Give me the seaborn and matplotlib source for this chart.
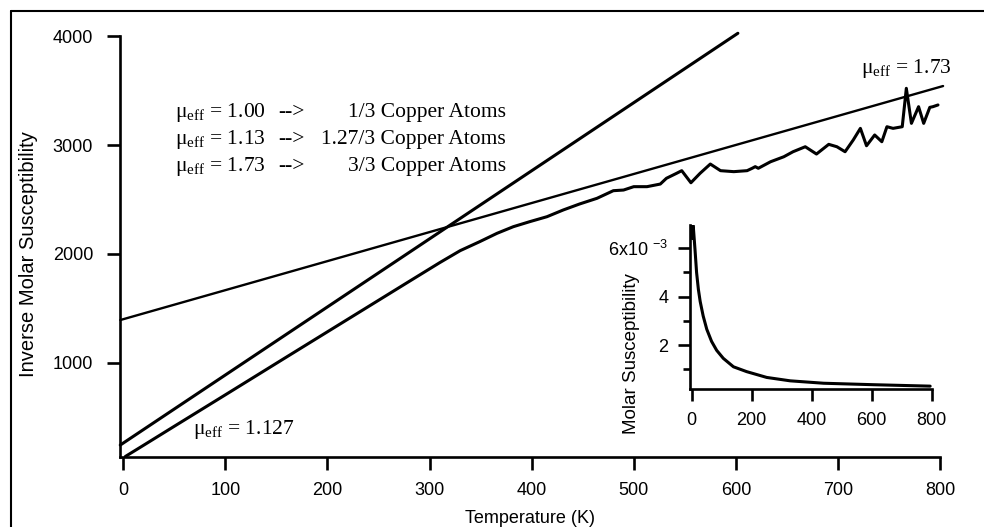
import matplotlib
matplotlib.use('Agg')
import matplotlib.pyplot as plt
import seaborn as sns
from matplotlib.lines import Line2D

# Datos (susceptibilidad molar inversa vs temperatura)
temp_K = [2, 20, 50, 100, 160, 220, 280, 310, 330, 349, 366, 382, 398, 415, 431,
          447, 464, 480, 490, 500, 513, 526, 532, 542, 547, 556, 565, 575, 585,
          598, 611, 616, 619, 622, 634, 647, 656, 668, 679, 691, 699, 707, 715,
          722, 728, 736, 743, 748, 754, 763, 767, 772, 779, 784, 790, 793, 798]
inv_chi = [138, 242, 416, 705, 1053, 1400, 1747, 1920, 2030, 2112, 2189, 2250,
           2296, 2342, 2404, 2459, 2511, 2581, 2587, 2618, 2618, 2642, 2695, 2741,
           2765, 2654, 2741, 2826, 2765, 2756, 2765, 2787, 2802, 2787, 2847, 2893,
           2939, 2985, 2918, 3007, 2985, 2939, 3047, 3154, 2994, 3093, 3031, 3169,
           3154, 3169, 3522, 3200, 3353, 3200, 3347, 3353, 3369]

# Rectas de Curie-Weiss (extremos leídos)
fit_low_T = [-3, 602]        # mu_eff = 1.127
fit_low_inv = [243, 4028]
fit_high_T = [-3, 803]       # mu_eff = 1.73
fit_high_inv = [1392, 3543]

# Recuadro: susceptibilidad molar
chi_T = [1.5, 3, 5, 8, 11, 16, 22, 28, 38, 50, 66, 83, 105, 139, 183, 250,
         328, 440, 605, 795]
chi_molar = [6.4e-3, 7.0e-3, 6.9e-3, 6.4e-3, 5.9e-3, 5.0e-3, 4.3e-3, 3.8e-3,
             3.2e-3, 2.65e-3, 2.15e-3, 1.78e-3, 1.45e-3, 1.1e-3, 0.9e-3, 0.66e-3,
             0.52e-3, 0.42e-3, 0.36e-3, 0.30e-3]

x_ticks = [0, 100, 200, 300, 400, 500, 600, 700, 800]
y_ticks = [1000, 2000, 3000, 4000]
inset_x_ticks = [0, 200, 400, 600, 800]
inset_y_ticks = [2e-3, 4e-3, 6e-3]
inset_y_labels = ['2', '4', '6x10 $^{\\mathsf{-3}}$']
inset_y_minor = [1e-3, 3e-3, 5e-3]

mu_labels = ['μ$_{\\mathrm{eff}}$ = 1.00', 'μ$_{\\mathrm{eff}}$ = 1.13', 'μ$_{\\mathrm{eff}}$ = 1.73']
atom_labels = ['1/3 Copper Atoms', '1.27/3 Copper Atoms', '3/3 Copper Atoms']

sns.set_style('ticks')
plt.rcParams.update({
    'font.family': ['Liberation Sans', 'DejaVu Sans'],
    'mathtext.fontset': 'custom',
    'mathtext.rm': 'Liberation Serif',
    'mathtext.sf': 'Liberation Sans',
    'axes.edgecolor': 'black',
    'axes.labelcolor': 'black',
    'text.color': 'black',
    'xtick.color': 'black',
    'ytick.color': 'black',
})

SERIF = ['Liberation Serif', 'DejaVu Serif']
SERIF_SIZE = 15.5

fig = plt.figure(figsize=(9.84, 5.27), dpi=100)
ax = fig.add_axes([0.122, 0.1334, 0.8333, 0.7977])

sns.lineplot(x=fit_low_T, y=fit_low_inv, ax=ax, color='black', linewidth=2.2, clip_on=False)
sns.lineplot(x=fit_high_T, y=fit_high_inv, ax=ax, color='black', linewidth=1.7, clip_on=False)
sns.lineplot(x=temp_K, y=inv_chi, ax=ax, color='black', linewidth=2.2, clip_on=False)

ax.set_xlim(-3.2, 800)
ax.set_ylim(136, 4000)
ax.set_xticks(x_ticks)
ax.set_yticks(y_ticks)
ax.tick_params(axis='both', direction='out', length=9.4, width=1.9, labelsize=13)
ax.tick_params(axis='x', pad=9)
ax.tick_params(axis='y', pad=10)
for s in ['top', 'right']:
    ax.spines[s].set_visible(False)
for s in ['left', 'bottom']:
    ax.spines[s].set_linewidth(1.9)

ax.set_xlabel('Temperature (K)', fontsize=13, va='top')
ax.xaxis.set_label_coords(0.5, -0.127)
ax.set_ylabel('Inverse Molar Susceptibility', fontsize=14.5)
ax.yaxis.set_label_coords(-0.100, 0.482)

# Bloque de texto
for mu, atoms, yb in zip(mu_labels, atom_labels, [3255, 3010, 2765]):
    ax.text(50.6, yb, mu, family=SERIF, fontsize=SERIF_SIZE, va='baseline', ha='left')
    ax.text(151.4, yb, '-->', family=SERIF, fontsize=SERIF_SIZE, va='baseline', ha='left')
    ax.text(374.9, yb, atoms, family=SERIF, fontsize=SERIF_SIZE, va='baseline', ha='right')

ax.text(68, 345, 'μ$_{\\mathrm{eff}}$ = 1.127', family=SERIF, fontsize=SERIF_SIZE, va='baseline')
ax.text(722.6, 3665, 'μ$_{\\mathrm{eff}}$ = 1.73', family=SERIF, fontsize=SERIF_SIZE, va='baseline')

# Recuadro
ax_in = fig.add_axes([0.7012, 0.2613, 0.2456, 0.3118])
ax_in.set_facecolor('none')
sns.lineplot(x=chi_T, y=chi_molar, ax=ax_in, color='black', linewidth=2.2)
ax_in.set_xlim(-6, 800)
ax_in.set_ylim(0.17e-3, 6.96e-3)
ax_in.set_xticks(inset_x_ticks)
ax_in.set_yticks(inset_y_ticks, labels=inset_y_labels)
ax_in.set_yticks(inset_y_minor, minor=True)
ax_in.tick_params(axis='both', which='major', direction='out', length=8.6, width=1.9, labelsize=13)
ax_in.tick_params(axis='y', which='minor', direction='out', length=5, width=1.9)
ax_in.tick_params(axis='x', pad=8)
ax_in.tick_params(axis='y', pad=7)
for s in ['top', 'right']:
    ax_in.spines[s].set_visible(False)
for s in ['left', 'bottom']:
    ax_in.spines[s].set_linewidth(1.9)
ax_in.set_xlabel('')
ax_in.set_ylabel('Molar Susceptibility', fontsize=13.5)
ax_in.yaxis.set_label_coords(-0.207, 0.215)

# Marco de la figura (arriba e izquierda)
fig.add_artist(Line2D([11 / 984, 11 / 984], [0, 1 - 11 / 527], transform=fig.transFigure,
                      color='black', linewidth=1.5))
fig.add_artist(Line2D([11 / 984, 1], [1 - 11 / 527, 1 - 11 / 527], transform=fig.transFigure,
                      color='black', linewidth=1.5))

fig.savefig('out.png', dpi=100)
